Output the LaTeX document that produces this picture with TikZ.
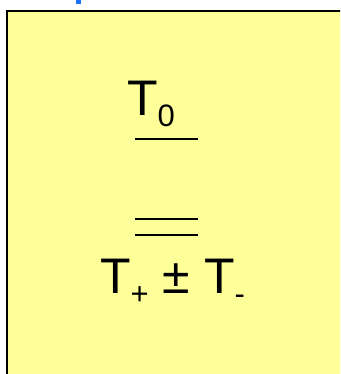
\documentclass[tikz,border=0pt]{standalone}
\usepackage{fontspec}
\setmainfont{Liberation Sans}
\definecolor{boxfill}{HTML}{FFFF99}
\definecolor{titleblue}{HTML}{1E6EFF}
\newcommand{\lowsub}[1]{\raisebox{-11pt}{\fontsize{31}{31}\selectfont #1}}
\begin{document}
\begin{tikzpicture}[x=1pt,y=-1pt,
        bigtext/.style={inner sep=0pt,anchor=base west,font=\fontsize{50}{50}\selectfont},
        bar/.style={line width=1.6pt}]
        \useasboundingbox (0,0) rectangle (340,374);
        \clip (0,0) rectangle (340,374);
        \fill[titleblue] (76,-2) rectangle (81,4);
        \draw[line width=2pt,fill=boxfill] (7,11) rectangle (360,400);
        \node[bigtext] (top) at (127,116) {T\lowsub{0}};
        \draw[bar] (135,139) -- (198,139);
        \draw[bar] (135,219) -- (198,219);
        \draw[bar] (135,235) -- (198,235);
        \node[bigtext] (bottom) at (100,293) {T\lowsub{+} ± T\lowsub{-}};
    \end{tikzpicture}
\end{document}
